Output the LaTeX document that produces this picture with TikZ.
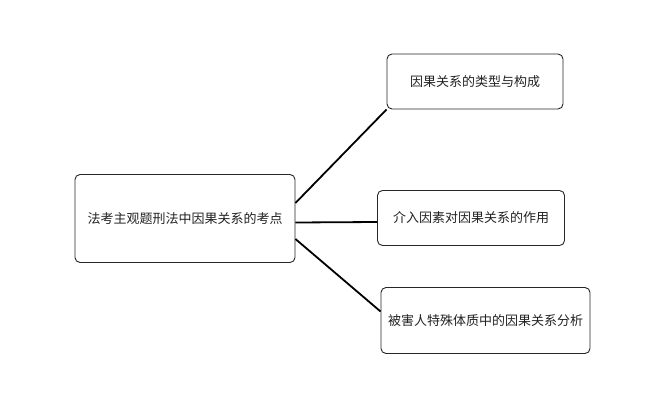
\documentclass[tikz,border=0pt]{standalone}
\usepackage{fontspec}
\usepackage{tikz}
\setmainfont{Noto Sans CJK SC}
\definecolor{textgray}{HTML}{222222}

\tikzset{
  topic/.style={draw=black!85, line width=0.9pt, rounded corners=5pt, fill=white,
    text=textgray, font=\fontsize{13}{15}\selectfont, inner sep=0pt},
  branch/.style={draw=black, line width=1.8pt}
}

\begin{document}
\begin{tikzpicture}[x=1pt,y=1pt,yscale=-1,xscale=1]

\useasboundingbox (0,0) rectangle (660,417);

\node [topic, minimum width=220pt, minimum height=88pt] (root) at (185,218.5) {法考主观题刑法中因果关系的考点};
\node [topic, minimum width=176pt, minimum height=55pt] (types) at (475,81.5) {因果关系的类型与构成};
\node [topic, minimum width=187pt, minimum height=55pt] (intervene) at (471,218) {介入因素对因果关系的作用};
\node [topic, minimum width=209pt, minimum height=66pt] (victim) at (485.5,320.5) {被害人特殊体质中的因果关系分析};

\draw [branch] ([yshift=-15.5pt]root.east) -- (types.south west);
\draw [branch] ([yshift=4pt]root.east) -- ([yshift=4pt]intervene.west);
\draw [branch] ([yshift=20.5pt]root.east) -- ([yshift=-9pt]victim.west);

\end{tikzpicture}
\end{document}
